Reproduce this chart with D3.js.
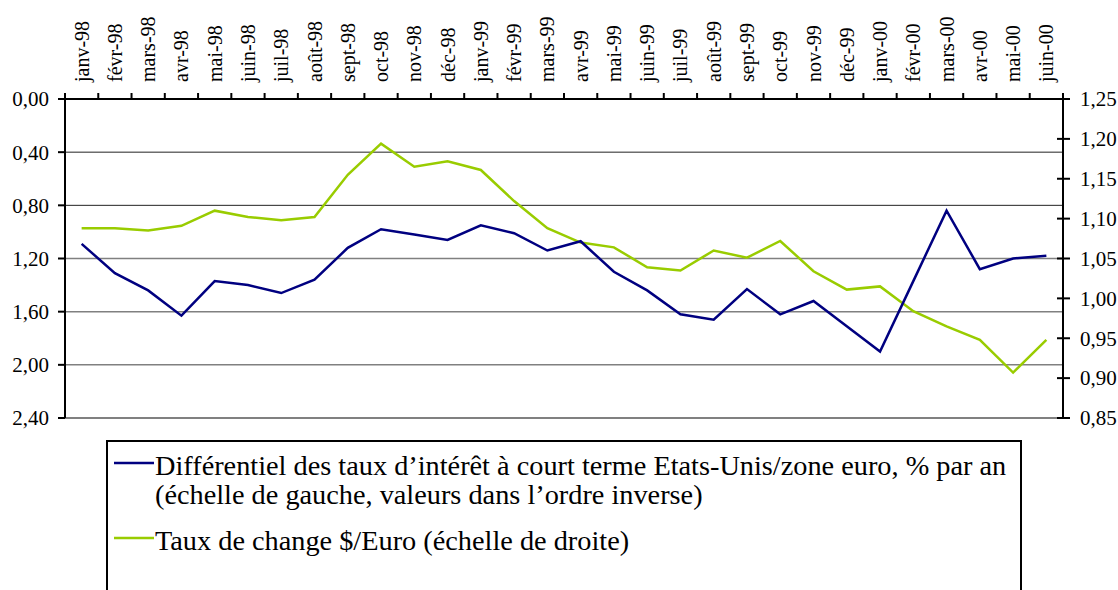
<!DOCTYPE html>
<html>
<head>
<meta charset="utf-8">
<script src="https://cdn.jsdelivr.net/npm/d3@7/dist/d3.min.js"></script>
<style>
  body { margin: 0; background: #fff; }
  svg { display: block; }
  text { font-family: "Liberation Serif", "Times New Roman", serif; fill: #000; }
</style>
</head>
<body>
<svg id="chart" width="1118" height="590"></svg>
<script>
// months along the top axis
var months = ["janv-98", "févr-98", "mars-98", "avr-98", "mai-98", "juin-98", "juil-98", "août-98",
    "sept-98", "oct-98", "nov-98", "déc-98", "janv-99", "févr-99", "mars-99", "avr-99", "mai-99",
    "juin-99", "juil-99", "août-99", "sept-99", "oct-99", "nov-99", "déc-99", "janv-00", "févr-00",
    "mars-00", "avr-00", "mai-00", "juin-00"];

// interest rate differential, % (left axis, reversed)
var differential = [1.09, 1.31, 1.44, 1.63, 1.37, 1.40, 1.46, 1.36, 1.12, 0.98, 1.02, 1.06, 0.95,
    1.01, 1.14, 1.07, 1.30, 1.44, 1.62, 1.66, 1.43, 1.62, 1.52, 1.71, 1.90, 1.37, 0.84, 1.28, 1.20, 1.18];

// $/Euro exchange rate (right axis)
var exchange = [1.088, 1.088, 1.085, 1.091, 1.110, 1.102, 1.098, 1.102, 1.155, 1.194, 1.165, 1.172,
    1.161, 1.122, 1.088, 1.070, 1.064, 1.039, 1.035, 1.060, 1.051, 1.072, 1.034, 1.011, 1.015, 0.984,
    0.965, 0.948, 0.907, 0.948];

var leftTicks = [0, 0.4, 0.8, 1.2, 1.6, 2.0, 2.4];
var rightTicks = [0.85, 0.90, 0.95, 1.00, 1.05, 1.10, 1.15, 1.20, 1.25];

var legendItems = [
    {lines: ["Différentiel des taux d\u2019intérêt à court terme Etats-Unis/zone euro, % par an",
             "(échelle de gauche, valeurs dans l\u2019ordre inverse)"], color: "#000080"},
    {lines: ["Taux de change $/Euro (échelle de droite)"], color: "#99cc00"}
];

var svg = d3.select("#chart");
var pLeft = 65, pRight = 1063, pTop = 99, pBottom = 418;

var x = d3.scaleBand().domain(months).range([pLeft, pRight]);
var yLeft = d3.scaleLinear().domain([0, 2.4]).range([pTop, pBottom]);
var yRight = d3.scaleLinear().domain([0.85, 1.25]).range([pBottom, pTop]);

function comma(v) { return d3.format(".2f")(v).replace(".", ","); }
function cx(m) { return x(m) + x.bandwidth() / 2; }

// gridlines
svg.append("g").selectAll("line")
    .data(leftTicks.slice(1))
    .enter().append("line")
    .attr("x1", pLeft).attr("x2", pRight)
    .attr("y1", function(d) { return yLeft(d); })
    .attr("y2", function(d) { return yLeft(d); })
    .attr("stroke", function(d, i) { return i < 2 ? "#222" : "#808080"; })
    .attr("stroke-width", function(d, i) { return i < 2 ? 1 : (i == 5 ? 2 : 1.5); });

// left axis
var gl = svg.append("g");
gl.append("line").attr("x1", pLeft).attr("x2", pLeft).attr("y1", pTop - 6).attr("y2", pBottom)
    .attr("stroke", "#000").attr("stroke-width", 2);
gl.selectAll(".tk").data(leftTicks).enter().append("line")
    .attr("x1", pLeft - 7).attr("x2", pLeft)
    .attr("y1", function(d) { return yLeft(d); }).attr("y2", function(d) { return yLeft(d); })
    .attr("stroke", "#000").attr("stroke-width", 2);
gl.selectAll("text").data(leftTicks).enter().append("text")
    .attr("x", 49).attr("y", function(d) { return yLeft(d); })
    .attr("dy", "0.35em").attr("text-anchor", "end")
    .style("font-size", "21px")
    .text(comma);

// right axis
var gr = svg.append("g");
gr.append("line").attr("x1", pRight).attr("x2", pRight).attr("y1", pTop - 6).attr("y2", pBottom)
    .attr("stroke", "#000").attr("stroke-width", 2);
gr.selectAll(".tk").data(rightTicks).enter().append("line")
    .attr("x1", pRight - 6).attr("x2", pRight + 7)
    .attr("y1", function(d) { return yRight(d); }).attr("y2", function(d) { return yRight(d); })
    .attr("stroke", "#000").attr("stroke-width", 2);
gr.selectAll("text").data(rightTicks).enter().append("text")
    .attr("x", 1080).attr("y", function(d) { return yRight(d); })
    .attr("dy", "0.35em")
    .style("font-size", "21px")
    .text(comma);

// top category axis
var gt = svg.append("g");
gt.append("line").attr("x1", pLeft - 7).attr("x2", pRight + 7).attr("y1", pTop).attr("y2", pTop)
    .attr("stroke", "#000").attr("stroke-width", 2);
var bounds = months.map(function(m) { return x(m); }).concat([pRight]);
gt.selectAll(".tk").data(bounds).enter().append("line")
    .attr("x1", function(d) { return d; }).attr("x2", function(d) { return d; })
    .attr("y1", pTop - 6).attr("y2", pTop)
    .attr("stroke", "#000").attr("stroke-width", 2);
gt.selectAll("text").data(months).enter().append("text")
    .attr("transform", function(d) { return "translate(" + cx(d) + ",82) rotate(-90)"; })
    .attr("dy", "0.35em")
    .style("font-size", "20px")
    .text(function(d) { return d; });

// series
var lineLeft = d3.line().x(function(d, i) { return cx(months[i]); }).y(function(d) { return yLeft(d); });
var lineRight = d3.line().x(function(d, i) { return cx(months[i]); }).y(function(d) { return yRight(d); });

svg.append("path").datum(exchange).attr("d", lineRight)
    .attr("fill", "none").attr("stroke", "#99cc00").attr("stroke-width", 2.5);
svg.append("path").datum(differential).attr("d", lineLeft)
    .attr("fill", "none").attr("stroke", "#000080").attr("stroke-width", 2.5);

// legend
var lg = svg.append("g");
lg.append("rect").attr("x", 107).attr("y", 441).attr("width", 914).attr("height", 200)
    .attr("fill", "#fff").attr("stroke", "#000").attr("stroke-width", 2);

var rowY = [463, 538];
legendItems.forEach(function(item, i) {
    lg.append("line").attr("x1", 114).attr("x2", 154)
        .attr("y1", rowY[i]).attr("y2", rowY[i])
        .attr("stroke", item.color).attr("stroke-width", 2.5);
    item.lines.forEach(function(t, j) {
        lg.append("text").attr("x", 155).attr("y", rowY[i] + 2 + j * 29)
            .attr("dy", "0.35em")
            .style("font-size", "28.3px")
            .text(t);
    });
});
</script>
</body>
</html>
